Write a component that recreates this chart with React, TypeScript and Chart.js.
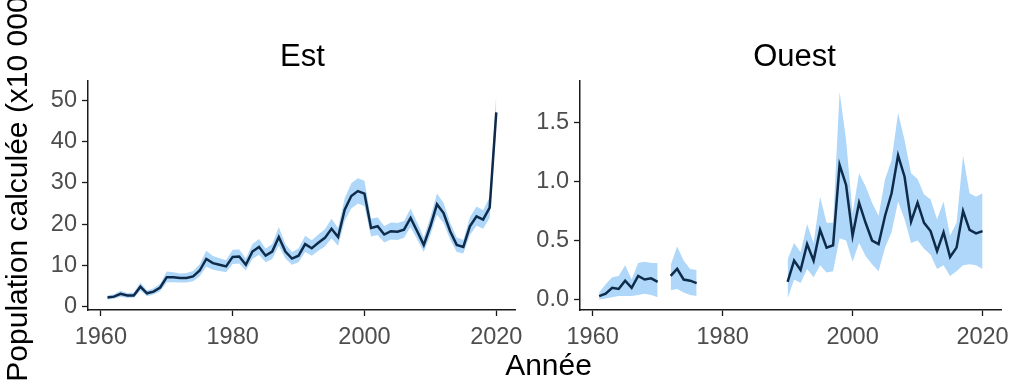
import React, { useEffect, useRef } from "react";
import { Chart, registerables } from "chart.js";

Chart.register(...registerables);

// ---------- data ----------
const years = [
  1961, 1962, 1963, 1964, 1965, 1966, 1967, 1968, 1969, 1970,
  1971, 1972, 1973, 1974, 1975, 1976, 1977, 1978, 1979, 1980,
  1981, 1982, 1983, 1984, 1985, 1986, 1987, 1988, 1989, 1990,
  1991, 1992, 1993, 1994, 1995, 1996, 1997, 1998, 1999, 2000,
  2001, 2002, 2003, 2004, 2005, 2006, 2007, 2008, 2009, 2010,
  2011, 2012, 2013, 2014, 2015, 2016, 2017, 2018, 2019, 2020,
];

const estMean = [
  2.3, 2.5, 3.2, 2.8, 2.8, 4.9, 3.3, 3.7, 4.7, 7.2,
  7.2, 7.0, 7.0, 7.4, 8.8, 11.6, 10.6, 10.2, 9.8, 12.1,
  12.2, 10.2, 13.4, 14.5, 12.4, 13.4, 16.9, 13.4, 11.7, 12.4,
  15.2, 14.2, 15.5, 16.7, 18.9, 16.9, 23.5, 26.8, 28.0, 27.4,
  19.1, 19.5, 17.5, 18.3, 18.2, 18.7, 21.5, 18.3, 15.0, 19.5,
  24.8, 22.7, 18.3, 15.0, 14.5, 19.5, 21.9, 21.1, 24.0, 47.0,
];
const estLow = [
  1.8, 2.0, 2.5, 2.2, 2.2, 4.0, 2.6, 3.0, 3.8, 6.0,
  6.0, 5.9, 5.9, 6.2, 7.4, 9.7, 9.0, 8.7, 8.4, 10.4,
  10.5, 8.8, 11.6, 12.6, 10.8, 11.6, 14.8, 11.7, 10.2, 10.8,
  13.3, 12.4, 13.6, 14.6, 16.6, 14.8, 20.8, 23.8, 25.0, 24.4,
  17.0, 17.4, 15.6, 16.3, 16.2, 16.7, 19.3, 16.3, 13.3, 17.4,
  22.3, 20.3, 16.3, 13.3, 12.9, 17.4, 19.6, 18.9, 21.5, 43.5,
];
const estHigh = [
  2.8, 3.1, 3.9, 3.4, 3.5, 5.9, 4.0, 4.5, 5.6, 8.6,
  8.4, 8.1, 8.2, 8.7, 10.3, 13.6, 12.3, 11.8, 11.3, 13.8,
  13.9, 11.7, 15.2, 16.4, 14.1, 15.2, 19.3, 15.2, 13.3, 14.1,
  17.2, 16.1, 17.5, 18.8, 21.3, 19.1, 26.3, 29.9, 31.1, 30.5,
  21.3, 21.7, 19.5, 20.4, 20.3, 20.8, 23.8, 20.4, 16.8, 21.7,
  27.4, 25.2, 20.4, 16.8, 16.2, 21.7, 24.3, 23.4, 26.6, 51.5,
];

const ouestMean = [
  0.03, 0.05, 0.10, 0.09, 0.16, 0.10, 0.20, 0.17, 0.18, 0.15,
  null, 0.20, 0.26, 0.17, 0.16, 0.14, null, null, null, null,
  null, null, null, null, null, null, null, null, null, 0.15,
  0.33, 0.25, 0.47, 0.33, 0.59, 0.44, 0.46, 1.14, 0.97, 0.54,
  0.82, 0.65, 0.50, 0.47, 0.71, 0.90, 1.22, 1.04, 0.66, 0.82,
  0.65, 0.58, 0.41, 0.57, 0.36, 0.44, 0.75, 0.59, 0.56, 0.58,
];
const ouestLow = [
  0.00, 0.01, 0.02, 0.03, 0.03, 0.03, 0.04, 0.05, 0.04, 0.02,
  null, 0.08, 0.09, 0.06, 0.04, 0.03, null, null, null, null,
  null, null, null, null, null, null, null, null, null, 0.01,
  0.17, 0.14, 0.26, 0.19, 0.29, 0.23, 0.24, 0.52, 0.50, 0.32,
  0.48, 0.37, 0.30, 0.24, 0.44, 0.57, 0.83, 0.68, 0.48, 0.50,
  0.43, 0.38, 0.26, 0.29, 0.20, 0.24, 0.29, 0.30, 0.29, 0.26,
];
const ouestHigh = [
  0.06, 0.13, 0.19, 0.20, 0.29, 0.17, 0.31, 0.32, 0.31, 0.31,
  null, 0.29, 0.45, 0.33, 0.26, 0.25, null, null, null, null,
  null, null, null, null, null, null, null, null, null, 0.34,
  0.48, 0.40, 0.64, 0.48, 0.87, 0.65, 0.65, 1.76, 1.35, 0.73,
  1.07, 0.96, 0.82, 0.71, 1.02, 1.18, 1.58, 1.35, 1.07, 1.02,
  0.89, 0.85, 0.68, 0.83, 0.54, 0.65, 1.22, 0.90, 0.87, 0.90,
];

const xTicks = [1960, 1980, 2000, 2020];
const estYTicks = [0, 10, 20, 30, 40, 50];
const ouestYTicks = [0, 0.5, 1.0, 1.5];

const panelTitles = ["Est", "Ouest"];
const xTitle = "Année";
const yTitle = "Population calculée (x10 000)";

// ---------- styling ----------
const FONT = "'Liberation Sans', Arial, Helvetica, sans-serif";
const LINE_COLOR = "#0f2b4a";
const RIBBON_COLOR = "#afd7f9";
const AXIS_COLOR = "#1a1a1a";
const TICK_LABEL_COLOR = "#4d4d4d";
const TICK_FONT_SIZE = 23.5;

const X_MIN = 1958.05;
const X_MAX = 2022.95;
const PANEL_TOP = 81;
const AXIS_BOTTOM_HEIGHT = 79;

function toPoints(vals: (number | null)[]) {
  return years.map((x, i) => ({ x, y: vals[i] }));
}

function buildConfig(
  mean: (number | null)[],
  low: (number | null)[],
  high: (number | null)[],
  yMin: number,
  yMax: number,
  yTicks: number[],
  fmt: (v: number) => string,
  yAxisWidth: number,
  padRight: number
): any {
  return {
    type: "line",
    data: {
      datasets: [
        {
          data: toPoints(mean),
          borderColor: LINE_COLOR,
          borderWidth: 2.5,
          pointRadius: 0,
          tension: 0,
          fill: false,
          spanGaps: false,
        },
        {
          data: toPoints(low),
          borderColor: "transparent",
          borderWidth: 0,
          pointRadius: 0,
          tension: 0,
          fill: false,
          spanGaps: false,
        },
        {
          data: toPoints(high),
          borderColor: "transparent",
          borderWidth: 0,
          backgroundColor: RIBBON_COLOR,
          pointRadius: 0,
          tension: 0,
          fill: 1,
          spanGaps: false,
        },
      ],
    },
    options: {
      animation: false,
      responsive: false,
      events: [],
      layout: { padding: { left: 0, right: padRight, top: PANEL_TOP, bottom: 0 } },
      plugins: {
        legend: { display: false },
        tooltip: { enabled: false },
        title: { display: false },
      },
      scales: {
        x: {
          type: "linear",
          min: X_MIN,
          max: X_MAX,
          afterBuildTicks: (s: any) => {
            s.ticks = xTicks.map((v) => ({ value: v }));
          },
          afterFit: (s: any) => {
            s.height = AXIS_BOTTOM_HEIGHT;
          },
          ticks: {
            callback: (v: any) => String(v),
            color: TICK_LABEL_COLOR,
            font: { family: FONT, size: TICK_FONT_SIZE },
            padding: 7,
            maxRotation: 0,
            autoSkip: false,
          },
          grid: {
            drawOnChartArea: false,
            drawTicks: true,
            tickLength: 6,
            tickColor: AXIS_COLOR,
            tickWidth: 1.3,
          },
          border: { display: true, color: AXIS_COLOR, width: 1.5 },
        },
        y: {
          type: "linear",
          min: yMin,
          max: yMax,
          afterBuildTicks: (s: any) => {
            s.ticks = yTicks.map((v) => ({ value: v }));
          },
          afterFit: (s: any) => {
            s.width = yAxisWidth;
          },
          ticks: {
            callback: (v: any) => fmt(Number(v)),
            color: TICK_LABEL_COLOR,
            font: { family: FONT, size: TICK_FONT_SIZE },
            padding: 5,
            autoSkip: false,
          },
          grid: {
            drawOnChartArea: false,
            drawTicks: true,
            tickLength: 6,
            tickColor: AXIS_COLOR,
            tickWidth: 1.3,
          },
          border: { display: true, color: AXIS_COLOR, width: 1.5 },
        },
      },
    },
  };
}

function Panel(props: { left: number; width: number; config: any }) {
  const ref = useRef<HTMLCanvasElement | null>(null);
  useEffect(() => {
    if (!ref.current) return;
    const chart = new Chart(ref.current, props.config);
    return () => chart.destroy();
  }, []);
  return (
    <canvas
      ref={ref}
      width={props.width}
      height={389}
      style={{ position: "absolute", left: props.left, top: 0, width: props.width, height: 389 }}
    />
  );
}

const titleStyle: React.CSSProperties = {
  position: "absolute",
  fontFamily: FONT,
  fontSize: 31,
  lineHeight: "31px",
  color: "#000",
  textAlign: "center",
  whiteSpace: "nowrap",
};

export default function App() {
  const estConfig = buildConfig(estMean, estLow, estHigh, -0.73, 54.6, estYTicks, (v) => String(v), 88, 13);
  const ouestConfig = buildConfig(ouestMean, ouestLow, ouestHigh, -0.088, 1.85, ouestYTicks, (v) => v.toFixed(1), 60, 7);
  return (
    <div
      style={{
        position: "fixed",
        left: 0,
        top: 0,
        width: 1016,
        height: 389,
        overflow: "hidden",
        background: "#fff",
      }}
    >
      <Panel left={0} width={530} config={estConfig} />
      <Panel left={520} width={496} config={ouestConfig} />
      <div style={{ ...titleStyle, left: 88, width: 429, top: 40 }}>{panelTitles[0]}</div>
      <div style={{ ...titleStyle, left: 580, width: 429, top: 40 }}>{panelTitles[1]}</div>
      <div style={{ ...titleStyle, fontSize: 30, lineHeight: "30px", left: 88, width: 921, top: 350 }}>{xTitle}</div>
      <div
        style={{
          ...titleStyle,
          fontSize: 30,
          lineHeight: "30px",
          left: 17 - 250,
          top: 184 - 15,
          width: 500,
          height: 30,
          transform: "rotate(-90deg)",
          transformOrigin: "center center",
        }}
      >
        {yTitle}
      </div>
    </div>
  );
}
